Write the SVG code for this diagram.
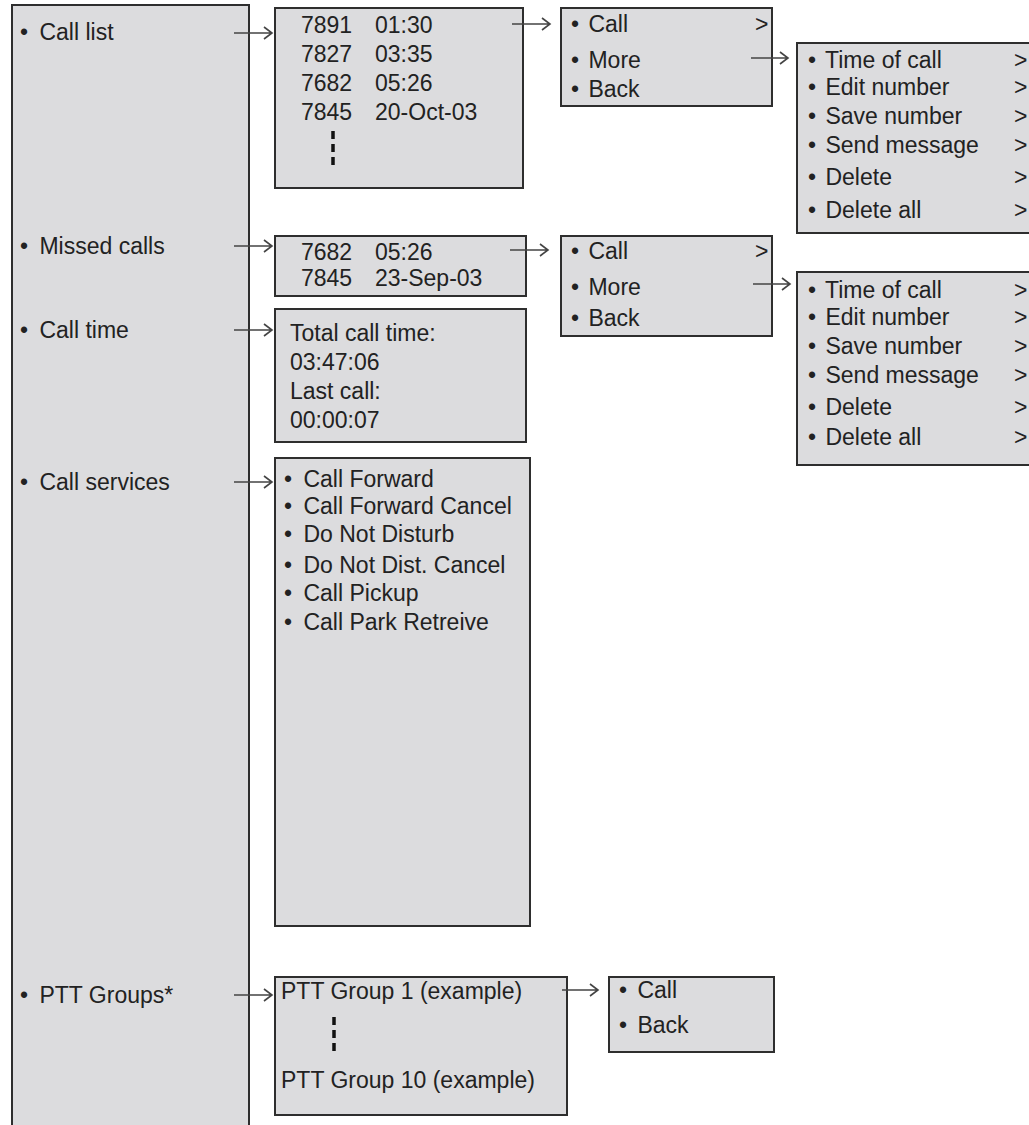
<svg xmlns="http://www.w3.org/2000/svg" width="1029" height="1125" viewBox="0 0 1029 1125">
<style>
.box{fill:#dcdcde;stroke:#2e2e2e;stroke-width:2}
text{font-family:"Liberation Sans",Arial,sans-serif;font-size:23px;fill:#222}
.ar{fill:none;stroke:#444;stroke-width:1.6}
.dash{stroke:#111;stroke-width:3.5;stroke-dasharray:8 5}
</style>
<rect x="0" y="0" width="1029" height="1125" fill="#ffffff"/>
<g id="main">
<rect class="box" x="12" y="5" width="237" height="1130"/>
<text x="20" y="40">•<tspan dx="5"> Call list</tspan></text>
<text x="20" y="254">•<tspan dx="5"> Missed calls</tspan></text>
<text x="20" y="338">•<tspan dx="5"> Call time</tspan></text>
<text x="20" y="490">•<tspan dx="5"> Call services</tspan></text>
<text x="20" y="1003">•<tspan dx="5"> PTT Groups*</tspan></text>
</g>
<g id="calllist">
<rect class="box" x="275" y="8" width="248" height="180"/>
<text x="301" y="33">7891</text><text x="375" y="33">01:30</text>
<text x="301" y="62">7827</text><text x="375" y="62">03:35</text>
<text x="301" y="91">7682</text><text x="375" y="91">05:26</text>
<text x="301" y="120">7845</text><text x="375" y="120">20-Oct-03</text>
<line class="dash" x1="333" y1="131" x2="333" y2="170"/>
</g>
<g id="callmenu1">
<rect class="box" x="561" y="8" width="211" height="98"/>
<text x="571" y="32">•<tspan dx="3"> Call</tspan></text>
<text x="755" y="32">&gt;</text>
<text x="571" y="68">•<tspan dx="3"> More</tspan></text>
<text x="571" y="97">•<tspan dx="3"> Back</tspan></text>
</g>
<g id="moremenu1">
<rect class="box" x="797" y="43" width="240" height="190"/>
<text x="808" y="68">•<tspan dx="3"> Time of call</tspan></text>
<text x="808" y="95">•<tspan dx="3"> Edit number</tspan></text>
<text x="808" y="124">•<tspan dx="3"> Save number</tspan></text>
<text x="808" y="153">•<tspan dx="3"> Send message</tspan></text>
<text x="808" y="185">•<tspan dx="3"> Delete</tspan></text>
<text x="808" y="218">•<tspan dx="3"> Delete all</tspan></text>
<text x="1014" y="68">&gt;</text>
<text x="1014" y="95">&gt;</text>
<text x="1014" y="124">&gt;</text>
<text x="1014" y="153">&gt;</text>
<text x="1014" y="185">&gt;</text>
<text x="1014" y="218">&gt;</text>
</g>
<g id="missed">
<rect class="box" x="275" y="236" width="251" height="60"/>
<text x="301" y="260">7682</text><text x="375" y="260">05:26</text>
<text x="301" y="286">7845</text><text x="375" y="286">23-Sep-03</text>
</g>
<g id="callmenu2">
<rect class="box" x="561" y="236" width="211" height="100"/>
<text x="571" y="259">•<tspan dx="3"> Call</tspan></text>
<text x="755" y="259">&gt;</text>
<text x="571" y="295">•<tspan dx="3"> More</tspan></text>
<text x="571" y="326">•<tspan dx="3"> Back</tspan></text>
</g>
<g id="moremenu2">
<rect class="box" x="797" y="272" width="240" height="193"/>
<text x="808" y="298">•<tspan dx="3"> Time of call</tspan></text>
<text x="808" y="325">•<tspan dx="3"> Edit number</tspan></text>
<text x="808" y="354">•<tspan dx="3"> Save number</tspan></text>
<text x="808" y="383">•<tspan dx="3"> Send message</tspan></text>
<text x="808" y="415">•<tspan dx="3"> Delete</tspan></text>
<text x="808" y="445">•<tspan dx="3"> Delete all</tspan></text>
<text x="1014" y="298">&gt;</text>
<text x="1014" y="325">&gt;</text>
<text x="1014" y="354">&gt;</text>
<text x="1014" y="383">&gt;</text>
<text x="1014" y="415">&gt;</text>
<text x="1014" y="445">&gt;</text>
</g>
<g id="calltime">
<rect class="box" x="275" y="309" width="251" height="133"/>
<text x="290" y="341">Total call time:</text>
<text x="290" y="370">03:47:06</text>
<text x="290" y="399">Last call:</text>
<text x="290" y="428">00:00:07</text>
</g>
<g id="services">
<rect class="box" x="275" y="458" width="255" height="468"/>
<text x="284" y="487">•<tspan dx="5"> Call Forward</tspan></text>
<text x="284" y="514">•<tspan dx="5"> Call Forward Cancel</tspan></text>
<text x="284" y="542">•<tspan dx="5"> Do Not Disturb</tspan></text>
<text x="284" y="573">•<tspan dx="5"> Do Not Dist. Cancel</tspan></text>
<text x="284" y="601">•<tspan dx="5"> Call Pickup</tspan></text>
<text x="284" y="630">•<tspan dx="5"> Call Park Retreive</tspan></text>
</g>
<g id="ptt">
<rect class="box" x="275" y="977" width="292" height="138"/>
<text x="281" y="999">PTT Group 1 (example)</text>
<line class="dash" x1="334" y1="1017" x2="334" y2="1052"/>
<text x="281" y="1088">PTT Group 10 (example)</text>
</g>
<g id="pttmenu">
<rect class="box" x="609" y="977" width="165" height="75"/>
<text x="619" y="998">•<tspan dx="4"> Call</tspan></text>
<text x="619" y="1033">•<tspan dx="4"> Back</tspan></text>
</g>
<g id="connectors">
<path class="ar" d="M234 33H272M264 27L272 33L264 39"/>
<path class="ar" d="M234 246H272M264 240L272 246L264 252"/>
<path class="ar" d="M234 330H272M264 324L272 330L264 336"/>
<path class="ar" d="M234 482H272M264 476L272 482L264 488"/>
<path class="ar" d="M234 995H272M264 989L272 995L264 1001"/>
<path class="ar" d="M512 24H550M542 18L550 24L542 30"/>
<path class="ar" d="M751 58H788M780 52L788 58L780 64"/>
<path class="ar" d="M510 250H548M540 244L548 250L540 256"/>
<path class="ar" d="M753 284H790M782 278L790 284L782 290"/>
<path class="ar" d="M562 990H598M590 984L598 990L590 996"/>
</g>
</svg>
